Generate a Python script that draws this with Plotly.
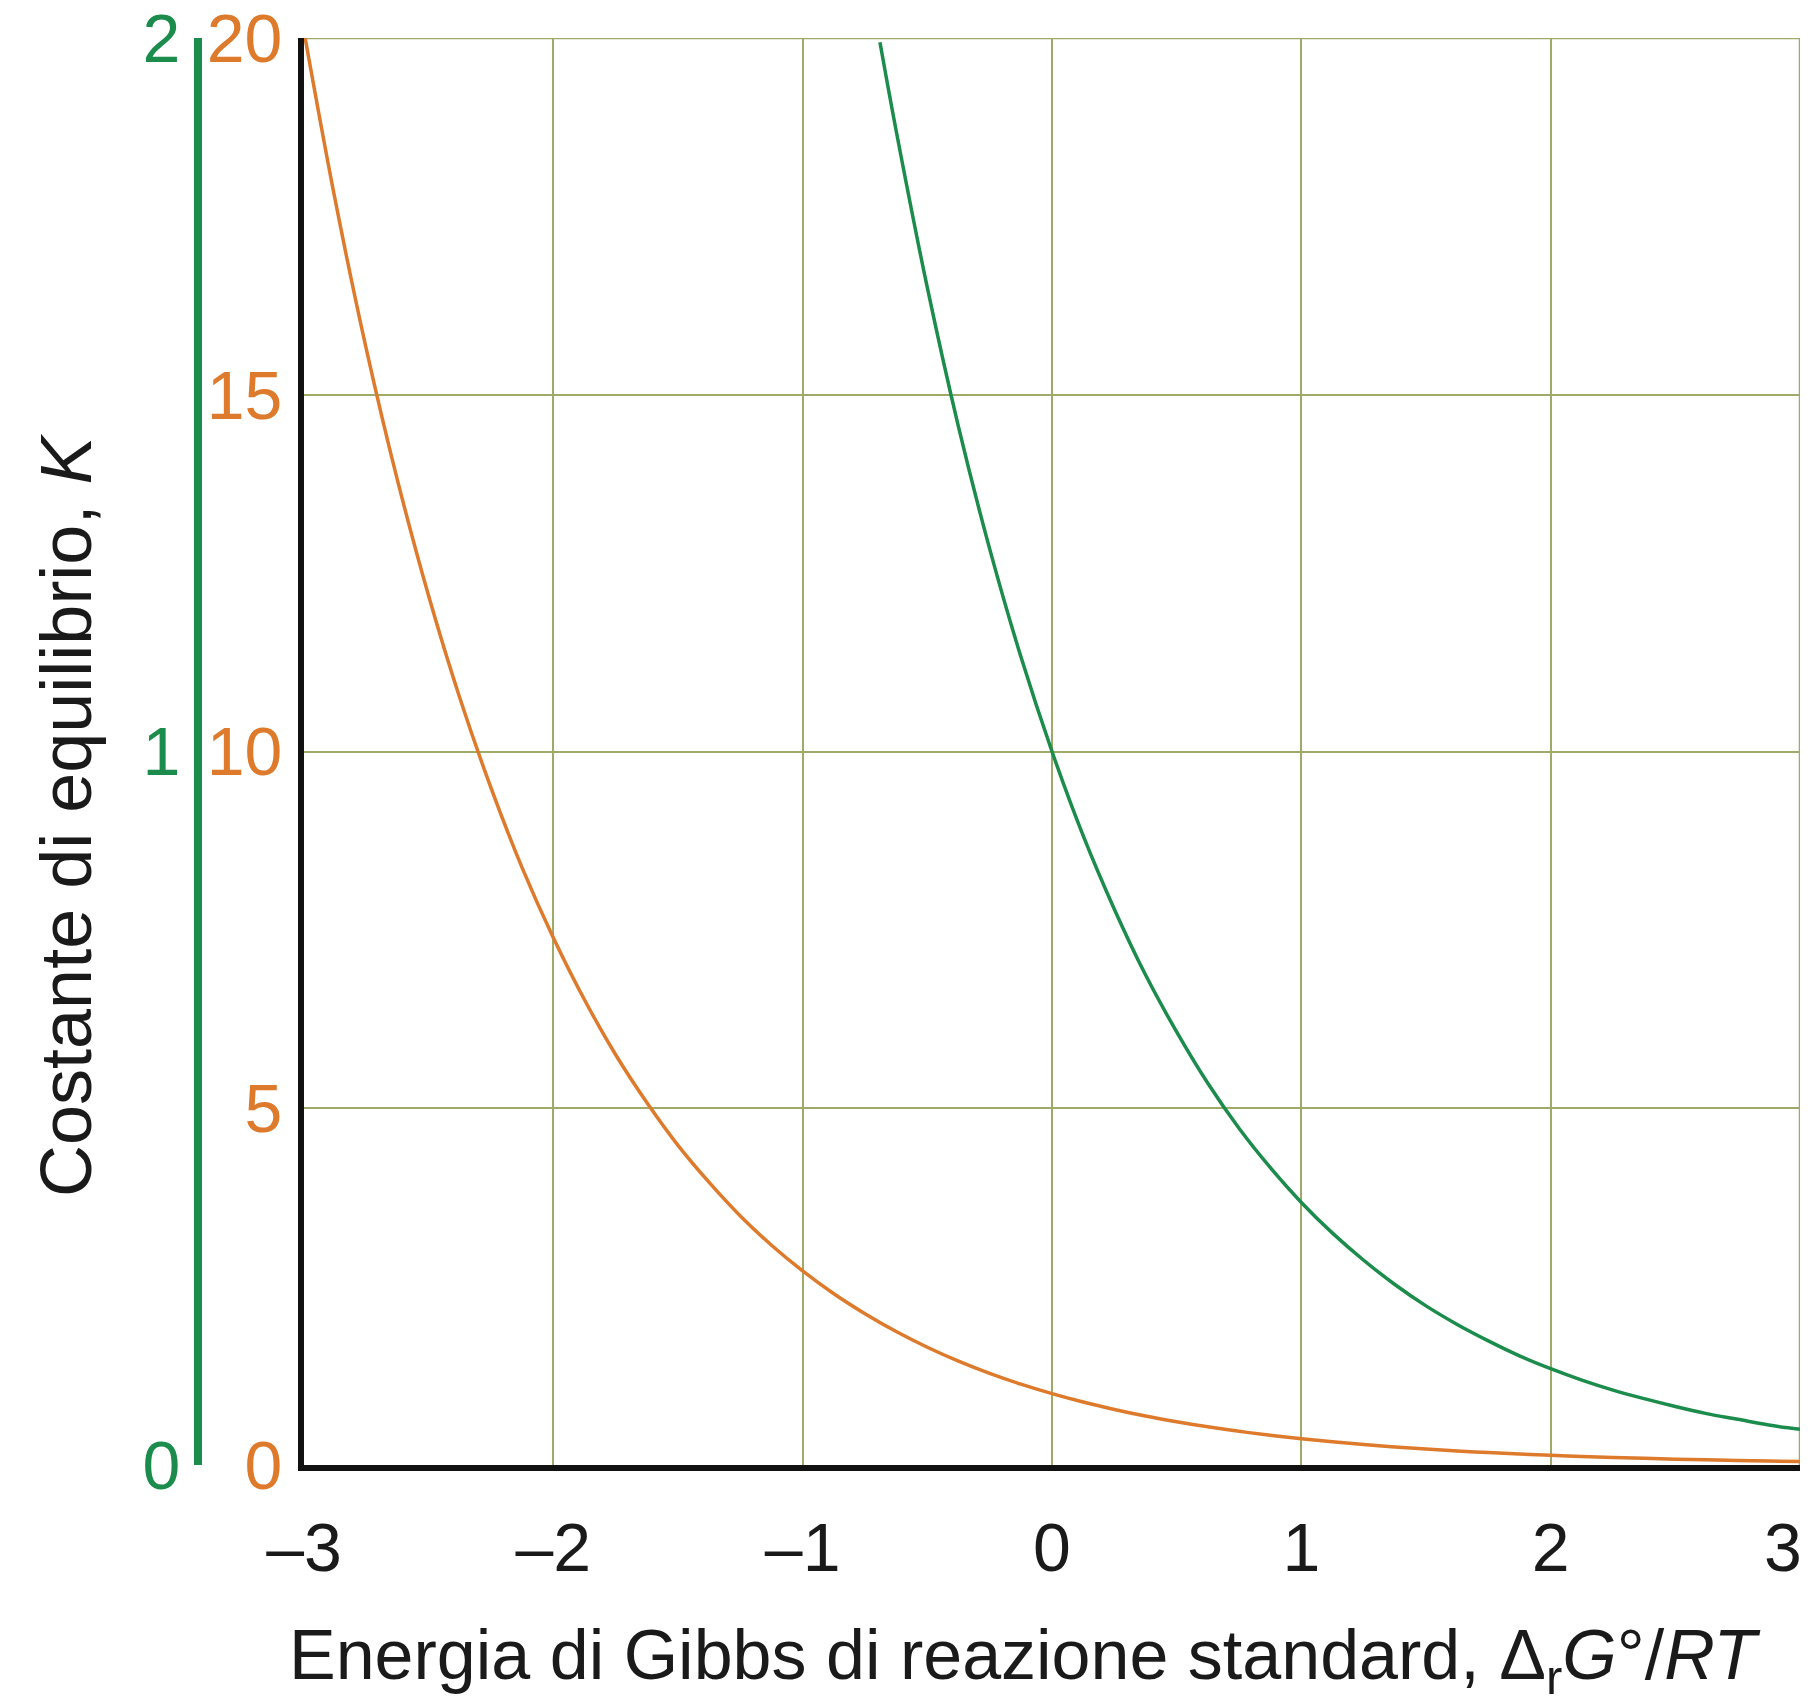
import plotly.graph_objects as go

# Values: equilibrium constant K vs ΔrG°/RT
orange_x = [-3, -2.875, -2.75, -2.625, -2.5, -2.375, -2.25, -2.125, -2, -1.875, -1.75, -1.625,
            -1.5, -1.375, -1.25, -1.125, -1, -0.875, -0.75, -0.625, -0.5, -0.375, -0.25, -0.125,
            0, 0.125, 0.25, 0.375, 0.5, 0.625, 0.75, 0.875, 1, 1.125, 1.25, 1.375, 1.5, 1.625,
            1.75, 1.875, 2, 2.125, 2.25, 2.375, 2.5, 2.625, 2.75, 2.875, 3]
orange_k = [20.09, 17.73, 15.64, 13.80, 12.18, 10.75, 9.49, 8.37, 7.39, 6.52, 5.75, 5.08,
            4.48, 3.96, 3.49, 3.08, 2.72, 2.40, 2.12, 1.87, 1.65, 1.455, 1.284, 1.133,
            1.0, 0.882, 0.779, 0.687, 0.607, 0.535, 0.472, 0.417, 0.368, 0.325, 0.287, 0.253, 0.223, 0.197,
            0.174, 0.153, 0.135, 0.119, 0.105, 0.093, 0.082, 0.072, 0.064, 0.056, 0.050]

green_x = [-0.69, -0.625, -0.5, -0.375, -0.25, -0.125, 0, 0.125, 0.25, 0.375, 0.5, 0.625, 0.75,
           0.875, 1, 1.125, 1.25, 1.375, 1.5, 1.625, 1.75, 1.875, 2, 2.125, 2.25, 2.375, 2.5,
           2.625, 2.75, 2.875, 3]
green_k = [1.994, 1.87, 1.65, 1.455, 1.284, 1.133, 1.0, 0.882, 0.779, 0.687, 0.607, 0.535, 0.472,
           0.417, 0.368, 0.325, 0.287, 0.253, 0.223, 0.197, 0.174, 0.153, 0.135, 0.119, 0.105, 0.093, 0.082,
           0.072, 0.064, 0.056, 0.050]

x_tick_vals = [-3, -2, -1, 0, 1, 2, 3]
x_tick_labels = ["–3", "–2", "–1", "0", "1", "2", "3\u2002"]
orange_tick_vals = [0, 5, 10, 15, 20]
green_tick_vals = [0, 1, 2]

x_title = "Energia di Gibbs di reazione standard, Δ<sub>r</sub><i>G</i>°/<i>RT</i>"
y_title = "Costante di equilibrio, <i>K</i>"

ORANGE = "#de7a2c"
GREEN = "#1b8c4c"
GRID = "#a0aa68"
FONT = "Liberation Sans, Arial, sans-serif"

W, H = 1814, 1707
ML, MR, MT, MB = 190, 14, 38, 242
pw = W - ML - MR
ph = H - MT - MB
x_dom0 = (304 - ML) / pw
green_pos = (198 - ML) / pw

fig = go.Figure()
fig.add_trace(go.Scatter(x=orange_x, y=orange_k, mode="lines",
                         line=dict(color=ORANGE, width=3.5, shape="spline", simplify=False),
                         yaxis="y", showlegend=False))
fig.add_trace(go.Scatter(x=green_x, y=green_k, mode="lines",
                         line=dict(color=GREEN, width=3.5, shape="spline", simplify=False),
                         yaxis="y2", showlegend=False))

# top and right grid borders
fig.add_shape(type="line", xref="x", yref="y", x0=-3, x1=3, y0=20, y1=20,
              line=dict(color=GRID, width=2.5), layer="below")
fig.add_shape(type="line", xref="x", yref="y", x0=3, x1=3, y0=0, y1=20,
              line=dict(color=GRID, width=2.5), layer="below")

fig.update_layout(
    width=W, height=H,
    margin=dict(l=ML, r=MR, t=MT, b=MB, autoexpand=False),
    paper_bgcolor="white", plot_bgcolor="white",
    font=dict(family=FONT, size=68, color="#1a1a1a"),
    xaxis=dict(domain=[x_dom0, 1], range=[-3, 3], tickvals=x_tick_vals, ticktext=x_tick_labels,
               showgrid=True, gridcolor=GRID, gridwidth=2, zeroline=False, automargin=False,
               showline=True, linecolor="#111111", linewidth=6, ticks="",
               ticklabelstandoff=18, ticklabeloverflow="allow",
               tickfont=dict(size=68, color="#1a1a1a")),
    yaxis=dict(range=[0, 20], tickvals=orange_tick_vals, showgrid=True, gridcolor=GRID, gridwidth=2,
               zeroline=False, showline=True, linecolor="#111111", linewidth=6, ticks="", automargin=False,
               ticklabelstandoff=2, ticklabeloverflow="allow", tickfont=dict(size=68, color=ORANGE)),
    yaxis2=dict(range=[0, 2], tickvals=green_tick_vals, overlaying="y", anchor="free", position=green_pos,
                side="left", showgrid=False, zeroline=False, showline=True, linecolor=GREEN, linewidth=8,
                ticks="", automargin=False, ticklabelstandoff=0, ticklabeloverflow="allow",
                tickfont=dict(size=68, color=GREEN)),
    annotations=[
        dict(text=x_title, xref="paper", yref="paper", x=(1024 - ML) / pw, y=-(1660 - (H - MB)) / ph,
             xanchor="center", yanchor="middle", showarrow=False, font=dict(size=70, color="#1a1a1a")),
        dict(text=y_title, xref="paper", yref="paper", x=(66 - ML) / pw, y=1 - (816 - MT) / ph,
             xanchor="center", yanchor="middle", textangle=-90, showarrow=False,
             font=dict(size=72, color="#1a1a1a")),
    ],
)

fig.write_html("out.html")
